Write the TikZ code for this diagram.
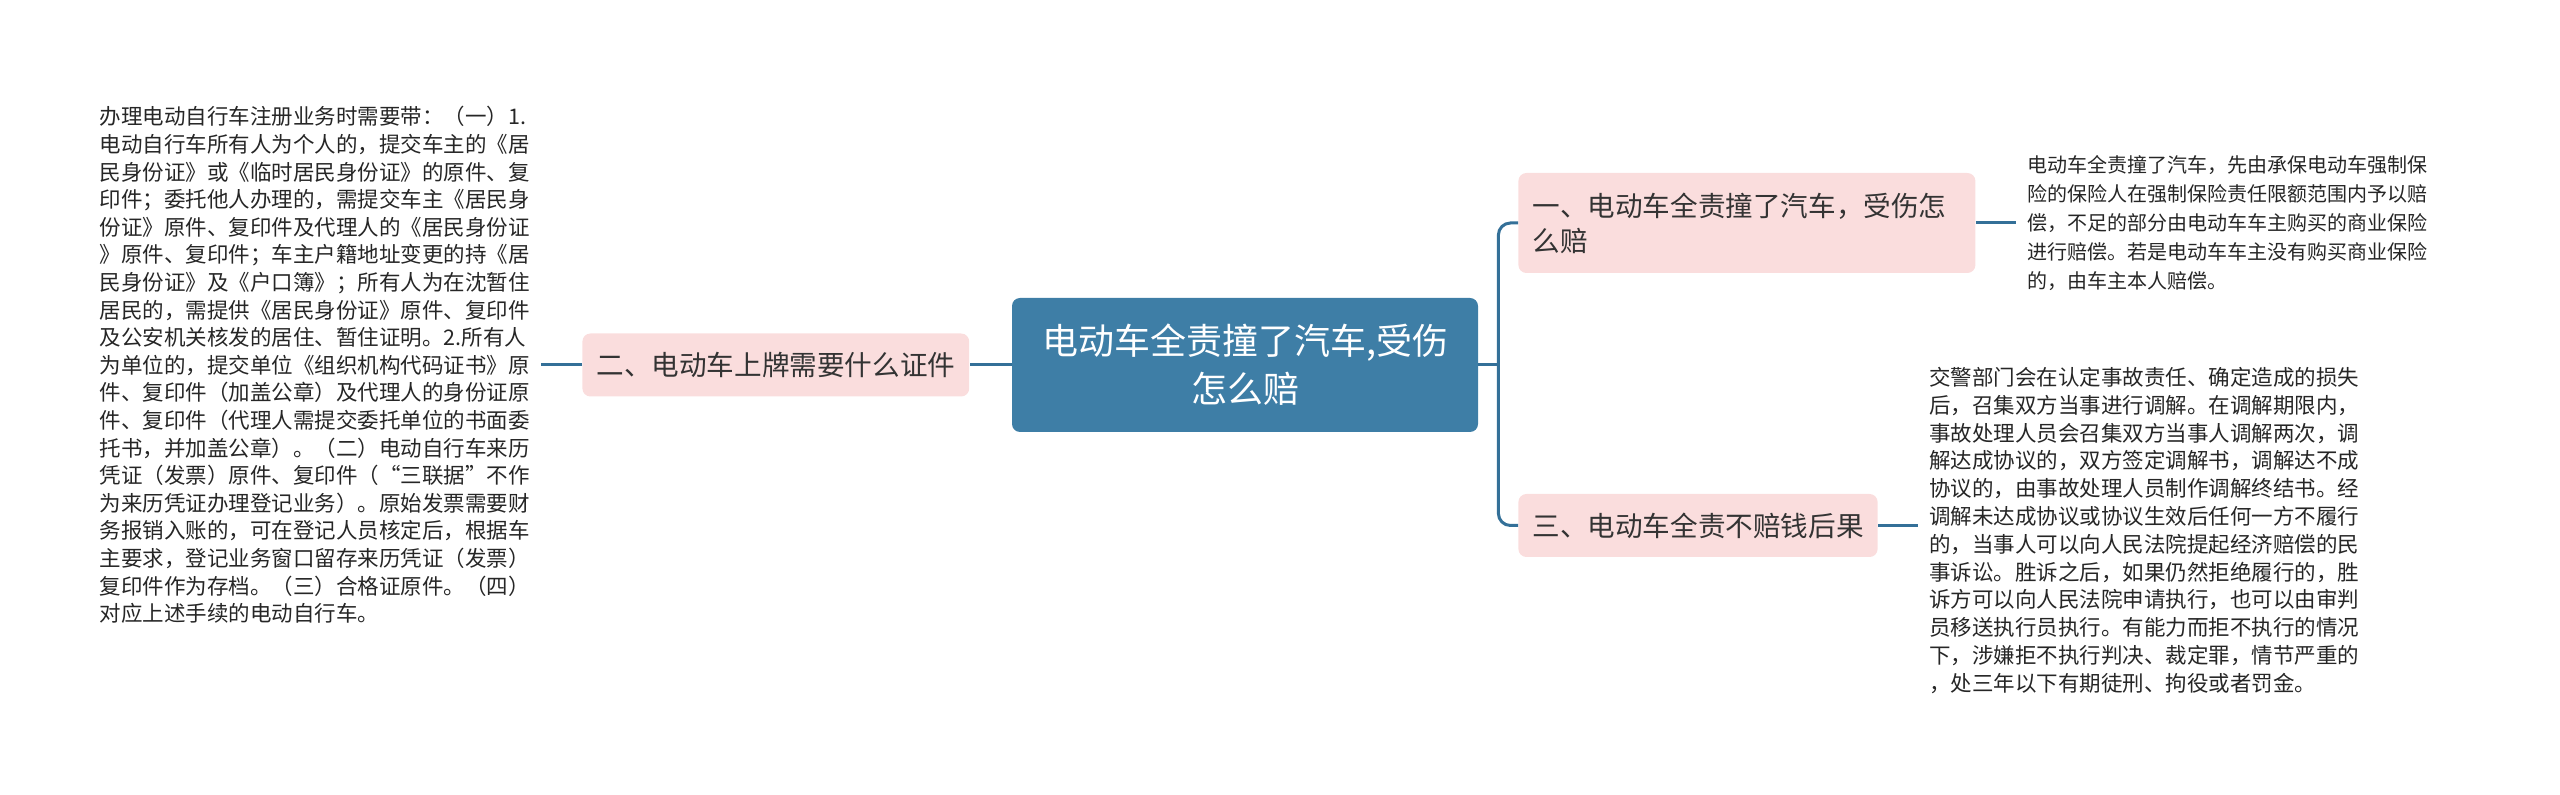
\documentclass[tikz,border=0pt]{standalone}
\usepackage{fontspec}
\setmainfont{Noto Sans CJK SC}
\usetikzlibrary{positioning}
\definecolor{hubblue}{RGB}{62,126,166}
\definecolor{linkblue}{RGB}{52,112,152}
\definecolor{topicpink}{RGB}{250,221,221}
\tikzset{
  rootnode/.style  = {shape=rectangle, rounded corners=4pt, fill=hubblue,
                      text=white, align=center,
                      minimum width=233pt, minimum height=67pt,
                      font=\fontsize{18}{24}\selectfont},
  topicnode/.style = {shape=rectangle, rounded corners=4pt, fill=topicpink,
                      text=black!80, inner xsep=7pt, minimum height=31.5pt,
                      font=\fontsize{13.8}{17.5}\selectfont},
  notenode/.style  = {align=left, inner xsep=5.5pt, inner ysep=0pt,
                      text=black!85},
  link/.style      = {draw=linkblue, line width=1.5pt}
}

\begin{document}
\begin{tikzpicture}[x=0.5pt, y=-0.5pt]
  \useasboundingbox (0,0) rectangle (2560,795);
  \node [rootnode] (hub) at (1245,365) {电动车全责撞了汽车,受伤\\怎么赔};
  \node [topicnode, left=21pt of hub] (q2) {二、电动车上牌需要什么证件};
  \node [topicnode, anchor=west, text width=214.5pt, align=left,
         minimum height=50pt] (q1) at (1518,223)
        {一、电动车全责撞了汽车，受伤怎\\么赔};
  \node [topicnode, anchor=west] (q3) at (1518,525.5) {三、电动车全责不赔钱后果};
  \node [notenode, left=20.5pt of q2, font=\fontsize{10.75}{13.8}\selectfont] (n2)
        {办理电动自行车注册业务时需要带：（一）1.\\
         电动自行车所有人为个人的，提交车主的《居\\
         民身份证》或《临时居民身份证》的原件、复\\
         印件；委托他人办理的，需提交车主《居民身\\
         份证》原件、复印件及代理人的《居民身份证\\
         》原件、复印件；车主户籍地址变更的持《居\\
         民身份证》及《户口簿》；所有人为在沈暂住\\
         居民的，需提供《居民身份证》原件、复印件\\
         及公安机关核发的居住、暂住证明。2.所有人\\
         为单位的，提交单位《组织机构代码证书》原\\
         件、复印件（加盖公章）及代理人的身份证原\\
         件、复印件（代理人需提交委托单位的书面委\\
         托书，并加盖公章）。（二）电动自行车来历\\
         凭证（发票）原件、复印件（“三联据”不作\\
         为来历凭证办理登记业务）。原始发票需要财\\
         务报销入账的，可在登记人员核定后，根据车\\
         主要求，登记业务窗口留存来历凭证（发票）\\
         复印件作为存档。（三）合格证原件。（四）\\
         对应上述手续的电动自行车。};
  \node [notenode, right=20pt of q1, font=\fontsize{10}{14.4}\selectfont] (n1)
        {电动车全责撞了汽车，先由承保电动车强制保\\
         险的保险人在强制保险责任限额范围内予以赔\\
         偿，不足的部分由电动车车主购买的商业保险\\
         进行赔偿。若是电动车车主没有购买商业保险\\
         的，由车主本人赔偿。};
  \node [notenode, right=20pt of q3, yshift=-2.5pt,
         font=\fontsize{10.75}{13.9}\selectfont] (n3)
        {交警部门会在认定事故责任、确定造成的损失\\
         后，召集双方当事进行调解。在调解期限内，\\
         事故处理人员会召集双方当事人调解两次，调\\
         解达成协议的，双方签定调解书，调解达不成\\
         协议的，由事故处理人员制作调解终结书。经\\
         调解未达成协议或协议生效后任何一方不履行\\
         的，当事人可以向人民法院提起经济赔偿的民\\
         事诉讼。胜诉之后，如果仍然拒绝履行的，胜\\
         诉方可以向人民法院申请执行，也可以由审判\\
         员移送执行员执行。有能力而拒不执行的情况\\
         下，涉嫌拒不执行判决、裁定罪，情节严重的\\
         ，处三年以下有期徒刑、拘役或者罚金。};
  \coordinate (fork) at ([xshift=10pt]hub.east);
  \draw [link] (hub.east) -- (fork);
  \draw [link, rounded corners=6pt] (fork) |- (q1.west);
  \draw [link, rounded corners=6pt] (fork) |- (q3.west);
  \draw [link] (hub.west) -- (q2.east);
  \draw [link] (q2.west) -- (n2.east);
  \draw [link] (q1.east) -- (n1.west);
  \draw [link] (q3.east) -- (q3.east -| n3.west);
\end{tikzpicture}
\end{document}
